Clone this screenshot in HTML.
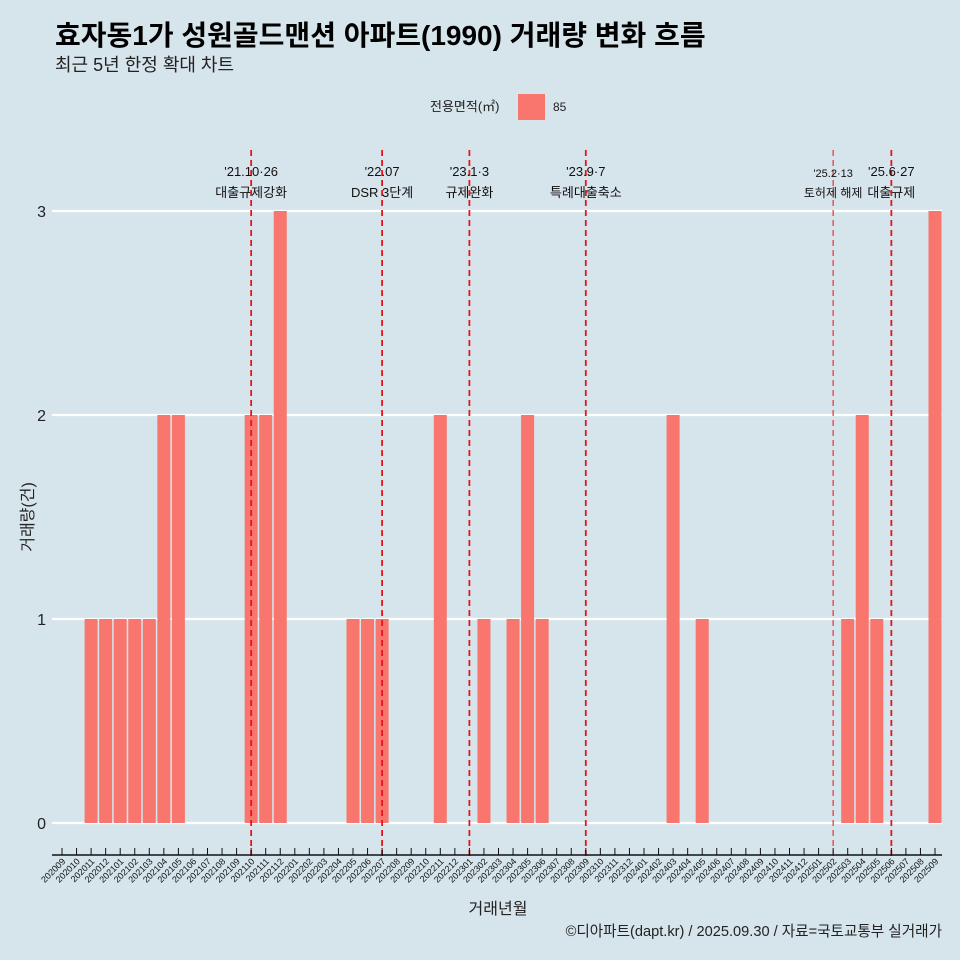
<!DOCTYPE html>
<html><head><meta charset="utf-8"><style>
html,body{margin:0;padding:0;background:#d6e4eb;}
svg{display:block;font-family:"Liberation Sans","Noto Sans CJK KR",sans-serif;}
</style></head><body>
<svg id="chart" width="960" height="960" viewBox="0 0 960 960">
<rect width="960" height="960" fill="#d6e4eb"/>
<text x="55" y="45" font-size="28" font-weight="bold" fill="#000">효자동1가 성원골드맨션 아파트(1990) 거래량 변화 흐름</text>
<text x="55" y="71" font-size="18" fill="#222">최근 5년 한정 확대 차트</text>
<g>
<text x="430" y="111" font-size="13" fill="#222">전용면적(㎡)</text>
<rect x="518" y="94" width="27" height="26" fill="#f8766d"/>
<text x="553" y="111" font-size="12" fill="#222">85</text>
</g>
<g id="grid"></g><g id="bars"></g><g id="events"></g><g id="xaxis"></g>
<text transform="translate(33,517) rotate(-90)" text-anchor="middle" font-size="16" fill="#222">거래량(건)</text>
<text x="498" y="914" text-anchor="middle" font-size="16" fill="#222">거래년월</text>
<text x="942" y="936" text-anchor="end" font-size="14.6" fill="#222">©디아파트(dapt.kr) / 2025.09.30 / 자료=국토교통부 실거래가</text>
</svg>
<script>
const months=[];for(let y=2020;y<=2025;y++)for(let m=1;m<=12;m++){const k=y*100+m;if(k>=202009&&k<=202509)months.push(String(k));}
const barMonths=["202011","202012","202101","202102","202103","202104","202105","202110","202111","202112","202205","202206","202207","202211","202302","202304","202305","202306","202403","202405","202503","202504","202505","202509"];
const barValues=[1,1,1,1,1,2,2,2,2,3,1,1,1,2,1,1,2,1,2,1,1,2,1,3];
const yTicks=[0,1,2,3];
const eventMonths=["202110","202207","202301","202309","202502","202506"];
const eventDates=["'21.10·26","'22.07","'23.1·3","'23.9·7","'25.2·13","'25.6·27"];
const eventLabels=["대출규제강화","DSR 3단계","규제완화","특례대출축소","토허제 해제","대출규제"];
const NS="http://www.w3.org/2000/svg";
const x0=62,x1=935,y0=823,yUnit=204;
const xs=m=>x0+months.indexOf(m)*(x1-x0)/(months.length-1);
const ys=v=>y0-v*yUnit;
function mk(t,a,p){const e=document.createElementNS(NS,t);for(const k in a)e.setAttribute(k,a[k]);p.appendChild(e);return e;}
const grid=document.getElementById('grid');
yTicks.forEach(v=>{
 const l=mk('line',{x1:52,x2:942,y1:ys(v),y2:ys(v),stroke:'#fff','stroke-width':2.2},grid);
 
 
 const t=mk('text',{x:46,y:ys(v)+6,'text-anchor':'end','font-size':16,fill:'#222'},grid);
 t.textContent=v;
 
 
});
const bars=document.getElementById('bars');
barMonths.forEach((m,i)=>{
 const h=barValues[i]*yUnit;
 const r=mk('rect',{x:xs(m)-6.5,y:y0-h,width:13,height:h,fill:'#f8766d'},bars);
 
 
});
const ev=document.getElementById('events');
eventMonths.forEach((m,i)=>{
 const x=xs(m);const thin=m==="202502";
 const l=mk('line',{x1:x,x2:x,y1:150,y2:856,stroke:thin?'#f03030':'#e8141c','stroke-width':thin?1.2:1.8,'stroke-dasharray':'6,4'},ev);
 
 
 const t1=mk('text',{x:x,y:thin?177:176,'text-anchor':'middle','font-size':thin?11:13,fill:'#111'},ev);
 t1.textContent=eventDates[i];
 
 
 const t2=mk('text',{x:x,y:197,'text-anchor':'middle','font-size':thin?12:13,fill:'#111'},ev);
 t2.textContent=eventLabels[i];
 
 
});
const xa=document.getElementById('xaxis');
const al=mk('line',{x1:52,x2:942,y1:855,y2:855,stroke:'#111','stroke-width':1.5},xa);


months.forEach(m=>{
 const x=xs(m);
 mk('line',{x1:x,x2:x,y1:848,y2:855,stroke:'#111','stroke-width':1},xa);
 const t=mk('text',{transform:`translate(${x+4},862) rotate(-45)`,'text-anchor':'end','font-size':9,fill:'#111'},xa);
 t.textContent=m;
 
 
});
</script>
</body></html>
